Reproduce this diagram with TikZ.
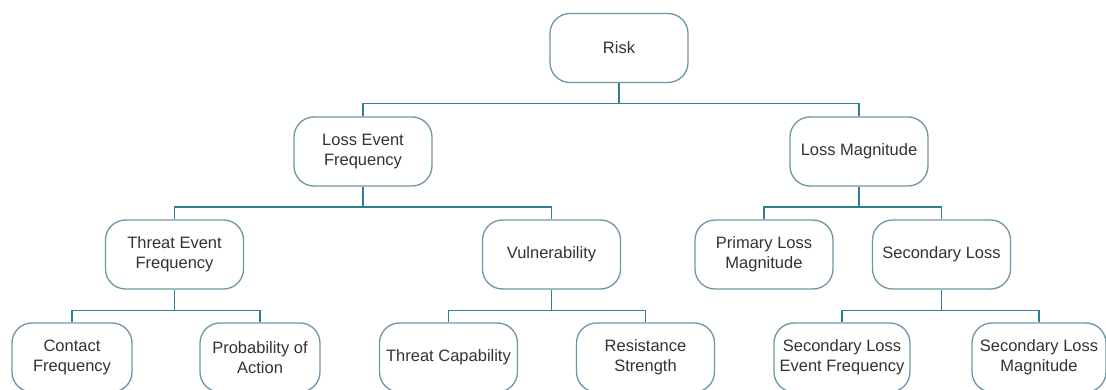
\documentclass[tikz,border=0pt]{standalone}
\usepackage{fontspec}
\setmainfont{Liberation Sans}
\definecolor{boxline}{HTML}{6E97A4}
\definecolor{linkline}{HTML}{2F7F92}
\definecolor{txt}{HTML}{333333}
\begin{document}
\begin{tikzpicture}[x=1pt,y=-1pt,
  riskbox/.style={draw=boxline, line width=1.3pt, rounded corners=20pt, fill=white,
    minimum width=138pt, minimum height=69pt, inner sep=0pt, align=center,
    text=txt, font=\fontsize{16.5}{20}\selectfont},
  narrowbox/.style={riskbox, minimum width=120pt},
  link/.style={draw=linkline, line width=1.3pt}]
\useasboundingbox (0,0) rectangle (1106,390);

% top level
\node[riskbox] (risk) at (619,48) {Risk};

% second level
\node[riskbox] (lef) at (363,151.5) {Loss Event\\Frequency};
\node[riskbox] (lm)  at (859,151.5) {Loss Magnitude};

% third level
\node[riskbox] (tef) at (174.5,254.5) {Threat Event\\Frequency};
\node[riskbox] (vul) at (551.5,254.5) {Vulnerability};
\node[riskbox] (plm) at (764,254.5) {Primary Loss\\Magnitude};
\node[riskbox] (sl)  at (941.5,254.5) {Secondary Loss};

% fourth level
\node[narrowbox] (cf) at (72,357.5) {Contact\\Frequency};
\node[narrowbox] (pa) at (260,357.5) {Probability of\\Action};
\node[riskbox] (tc)   at (448.5,357.5) {Threat Capability};
\node[riskbox] (rs)   at (645.5,357.5) {Resistance\\Strength};
\node[riskbox, minimum width=136pt] (slef) at (842,357.5) {Secondary Loss\\Event Frequency};
\node[riskbox, minimum width=134pt] (slm)  at (1039,357.5) {Secondary Loss\\Magnitude};

% elbow connectors: down from the parent, across, down into the child
\foreach \p/\c in {risk/lef, risk/lm, lef/tef, lef/vul, lm/plm, lm/sl,
                   tef/cf, tef/pa, vul/tc, vul/rs, sl/slef, sl/slm}
  \draw[link] (\p.south) -- ++(0,20.5) -| (\c.north);
\end{tikzpicture}
\end{document}
